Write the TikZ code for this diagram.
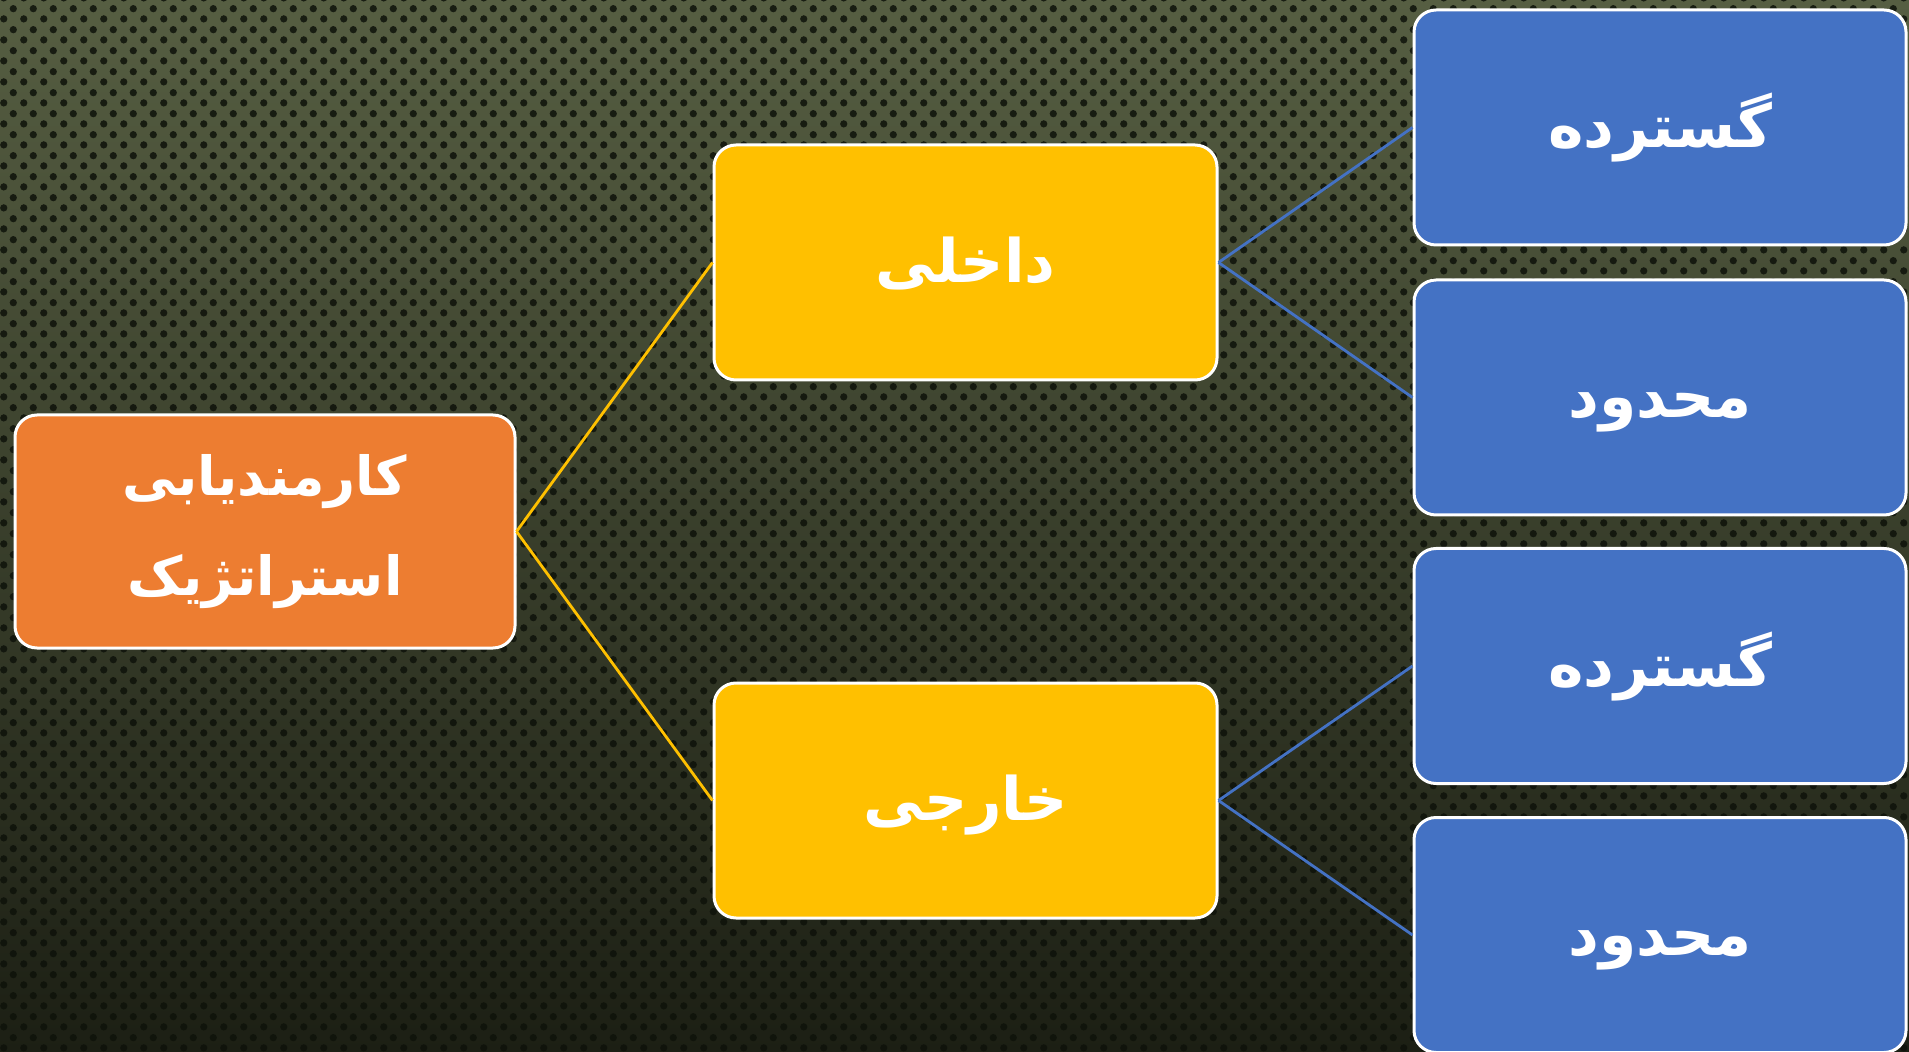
\documentclass[tikz,border=0pt]{standalone}
\usepackage{fontspec}
\TeXXeTstate=1
\newfontfamily\arabicfont[Script=Arabic]{DejaVu Sans}
\usetikzlibrary{patterns}
\definecolor{bgtop}{RGB}{86,94,66}
\definecolor{bgmid}{RGB}{54,60,42}
\definecolor{bgbot}{RGB}{28,31,20}
\definecolor{dotc}{RGB}{14,18,10}
\definecolor{orgc}{RGB}{237,125,49}
\definecolor{yelc}{RGB}{255,192,0}
\definecolor{bluc}{RGB}{68,114,196}
\pgfdeclarepatternformonly{hexdots}{\pgfpointorigin}{\pgfpoint{10pt}{10.6pt}}{\pgfpoint{10pt}{10.6pt}}{%
  \pgfpathcircle{\pgfpoint{2.5pt}{2.65pt}}{1.9pt}%
  \pgfpathcircle{\pgfpoint{7.5pt}{7.95pt}}{1.9pt}%
  \pgfusepath{fill}}
\tikzset{
  box/.style={draw=white, line width=1.5pt, rounded corners=11pt, inner sep=0pt,
    text=white, font=\arabicfont\bfseries\fontsize{30}{50}\selectfont, align=center},
  onebox/.style={text height=26pt, text depth=6pt},
  rootbox/.style={box, fill=orgc, minimum width=250pt, minimum height=116.5pt,
    font=\arabicfont\bfseries\fontsize{27}{50}\selectfont},
  midbox/.style={box, onebox, fill=yelc, minimum width=251.5pt, minimum height=117.5pt},
  leafbox/.style={box, onebox, fill=bluc, minimum width=246pt, minimum height=117.5pt},
  yline/.style={draw=yelc, line width=1.4pt},
  bline/.style={draw=bluc, line width=1.4pt}
}
\begin{document}
\begin{tikzpicture}[x=0.5pt,y=-0.5pt]
\useasboundingbox (0,0) rectangle (1909,1052);
\shade[top color=bgtop, middle color=bgmid, bottom color=bgbot] (0,0) rectangle (1909,1052);
\fill[pattern=hexdots, pattern color=dotc, fill opacity=0.85] (0,0) rectangle (1909,1052);

\node[rootbox] (root) at (265,531.5) {\beginR کارمندیابی\endR\\\beginR استراتژیک\endR};
\node[midbox] (inner) at (965.5,262.5) {\beginR داخلی\endR};
\node[midbox] (outer) at (965.5,800.5) {\beginR خارجی\endR};
\node[leafbox] (l1) at (1660,127.5) {\beginR گسترده\endR};
\node[leafbox] (l2) at (1660,397.5) {\beginR محدود\endR};
\node[leafbox] (l3) at (1660,666) {\beginR گسترده\endR};
\node[leafbox] (l4) at (1660,935) {\beginR محدود\endR};

\draw[yline] (root.east) -- (inner.west);
\draw[yline] (root.east) -- (outer.west);
\draw[bline] (inner.east) -- (l1.west);
\draw[bline] (inner.east) -- (l2.west);
\draw[bline] (outer.east) -- (l3.west);
\draw[bline] (outer.east) -- (l4.west);
\end{tikzpicture}
\end{document}
